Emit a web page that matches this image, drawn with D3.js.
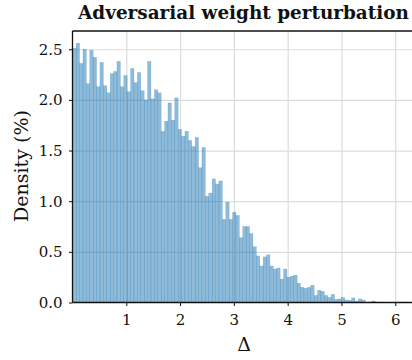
<!DOCTYPE html>
<html>
<head>
<meta charset="utf-8">
<script src="https://cdn.jsdelivr.net/npm/d3@7/dist/d3.min.js"></script>
<style>
  body { margin: 0; background: #fff; }
  text { font-family: "DejaVu Serif", serif; fill: #111; }
</style>
</head>
<body>
<script>
'use strict';

// histogram bins: start, width and the height of each bin
const binStart = 0.005;
const binWidth = 0.0632;
const density = [
  2.51, 2.56, 2.36, 2.50, 2.16, 2.49, 2.42, 2.13, 2.37, 2.14,
  2.07, 2.26, 2.28, 2.38, 2.13, 2.24, 2.08, 2.31, 2.17, 2.27,
  2.09, 2.00, 2.38, 2.01, 2.10, 2.07, 1.69, 1.79, 1.97, 1.80,
  2.02, 1.71, 1.64, 1.69, 1.60, 1.54, 1.63, 1.33, 1.53, 1.05,
  1.08, 1.22, 1.17, 1.20, 0.82, 0.99, 0.82, 0.89, 0.86, 0.64,
  0.75, 0.75, 0.68, 0.55, 0.46, 0.36, 0.45, 0.47, 0.36, 0.33,
  0.34, 0.23, 0.33, 0.25, 0.26, 0.27, 0.19, 0.15, 0.14, 0.15,
  0.17, 0.07, 0.12, 0.11, 0.07, 0.05, 0.08, 0.03, 0.035, 0.05,
  0.025, 0.02, 0.045, 0.015, 0.035, 0.025, 0.005, 0.005, 0.015, 0.005,
  0.005, 0.003, 0.003, 0.003, 0.003, 0, 0.003, 0.005, 0.005, 0.003
];
const xDomain = [0, 6.33];
const yDomain = [0, 2.68];
const xTicks = [1, 2, 3, 4, 5, 6];
const yTicks = [0, 0.5, 1.0, 1.5, 2.0, 2.5];
const titleText = 'Adversarial weight perturbation';
const xLabelText = 'Δ';
const yLabelText = 'Density (%)';

// svg margins
var width = 412, height = 360;
var margin = {top: 31, right: -1, bottom: 57.5, left: 72.5};
var plotWidth = width - margin.left - margin.right,
    plotHeight = height - margin.top - margin.bottom;

var x = d3.scaleLinear().domain(xDomain).range([0, plotWidth]);
var y = d3.scaleLinear().domain(yDomain).range([plotHeight, 0]);

var svg = d3.select('body').append('svg')
  .attr('width', width)
  .attr('height', height)
  .style('display', 'block');

var g = svg.append('g')
  .attr('transform', 'translate(' + margin.left + ',' + margin.top + ')');

// grid, behind the bars
g.append('g')
  .attr('class', 'grid')
  .attr('transform', 'translate(0,' + plotHeight + ')')
  .call(d3.axisBottom(x).tickValues(xTicks).tickSize(-plotHeight).tickFormat(''))
  .call(s => s.select('.domain').remove());

g.append('g')
  .attr('class', 'grid')
  .call(d3.axisLeft(y).tickValues(yTicks.slice(1)).tickSize(-plotWidth).tickFormat(''))
  .call(s => s.select('.domain').remove());

g.selectAll('.grid line')
  .attr('stroke', '#dcdcdc')
  .attr('stroke-width', 1.2);

// bars
g.append('g')
  .selectAll('rect')
  .data(density)
  .enter()
  .append('rect')
  .attr('x', (d, i) => x(binStart + i * binWidth))
  .attr('y', d => y(d))
  .attr('width', x(binWidth) - x(0))
  .attr('height', d => y(0) - y(d))
  .attr('fill', '#1f77b4')
  .attr('fill-opacity', 0.5)
  .attr('stroke', '#1f77b4')
  .attr('stroke-opacity', 0.45)
  .attr('stroke-width', 0.35);

// axes
var xAxis = g.append('g')
  .attr('transform', 'translate(0,' + plotHeight + ')')
  .call(d3.axisBottom(x).tickValues(xTicks).tickSize(3.5).tickPadding(8).tickFormat(d3.format('d')));

var yAxis = g.append('g')
  .call(d3.axisLeft(y).tickValues(yTicks).tickSize(3.5).tickPadding(6.5).tickFormat(d3.format('.1f')));

[xAxis, yAxis].forEach(a => {
  a.select('.domain').remove();
  a.selectAll('line').attr('stroke', '#111').attr('stroke-width', 1);
  a.selectAll('text')
    .attr('fill', '#111')
    .style('font-family', '"DejaVu Serif", serif')
    .style('font-size', '15px');
});

// spines: left, bottom, top
g.append('line').attr('x1', 0).attr('x2', 0).attr('y1', 0).attr('y2', plotHeight)
  .attr('stroke', '#111').attr('stroke-width', 1.3);
g.append('line').attr('x1', 0).attr('x2', plotWidth).attr('y1', plotHeight).attr('y2', plotHeight)
  .attr('stroke', '#111').attr('stroke-width', 1.3);
g.append('line').attr('x1', 0).attr('x2', plotWidth).attr('y1', 0).attr('y2', 0)
  .attr('stroke', '#111').attr('stroke-width', 1.3);

// labels
svg.append('text')
  .attr('x', 243.5)
  .attr('y', 19)
  .attr('text-anchor', 'middle')
  .style('font-size', '18.4px')
  .style('font-weight', 'bold')
  .text(titleText);

svg.append('text')
  .attr('x', 244)
  .attr('y', 351)
  .attr('text-anchor', 'middle')
  .style('font-size', '19px')
  .text(xLabelText);

svg.append('text')
  .attr('transform', 'translate(28,166) rotate(-90)')
  .attr('text-anchor', 'middle')
  .style('font-size', '19px')
  .text(yLabelText);
</script>
</body>
</html>
